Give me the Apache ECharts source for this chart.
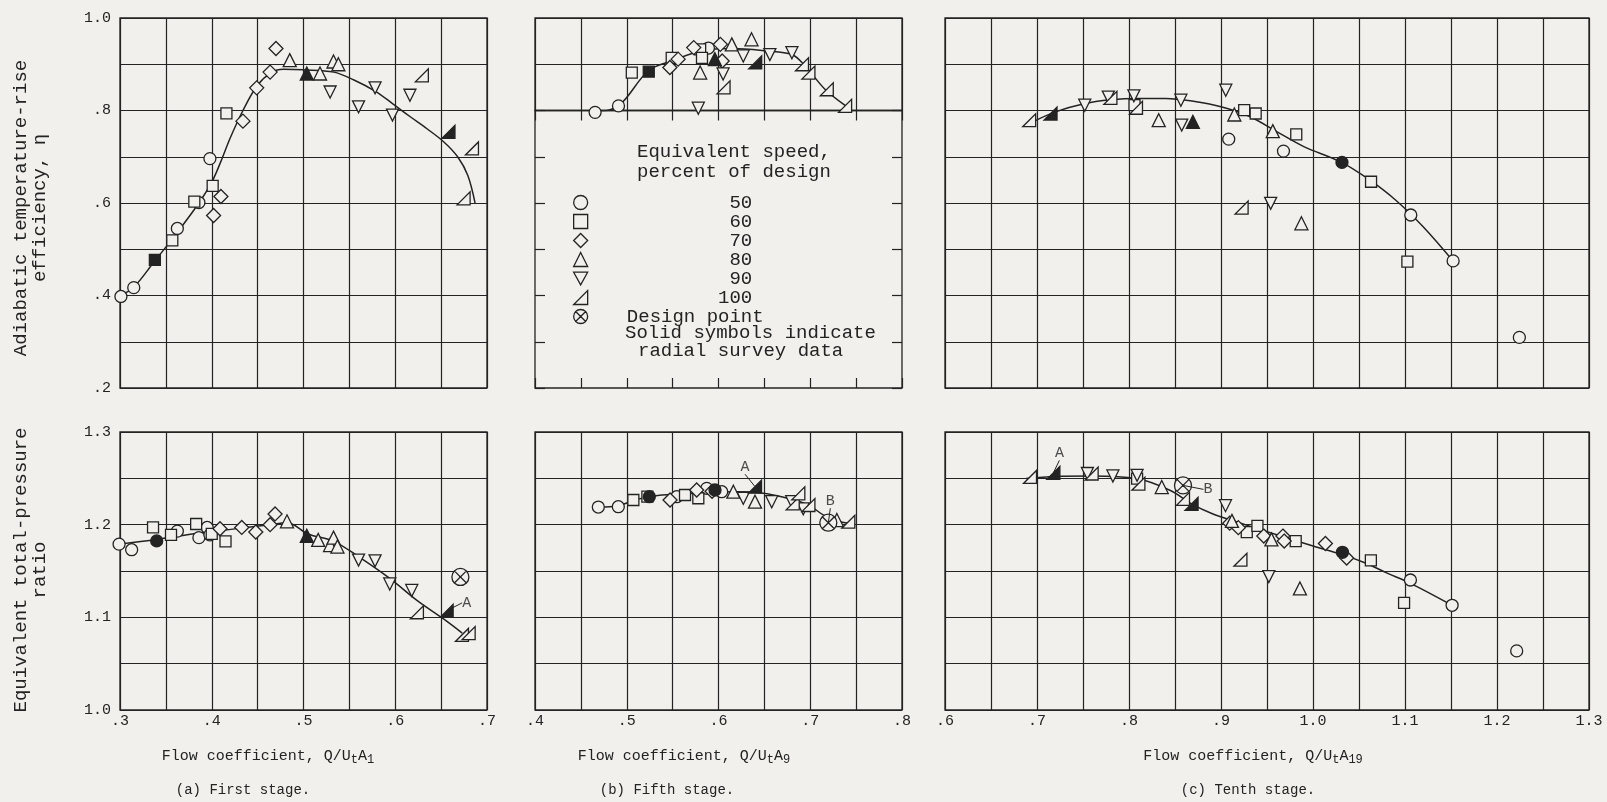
<!DOCTYPE html>
<html>
<head>
<meta charset="utf-8">
<script src="https://cdn.jsdelivr.net/npm/echarts@6/dist/echarts.min.js"></script>
<style>
  html, body { margin: 0; padding: 0; background: #f1f0ec; }
  #chart { width: 1607px; height: 802px; }
</style>
</head>
<body>
<div id="chart"></div>
<script>
// ---- Stage performance data: [flow coefficient, value] ----
const speeds = ['50', '60', '70', '80', '90', '100'];

// (a) First stage: efficiency
const s1Eff50 = [[0.301, 0.398], [0.315, 0.417], [0.3625, 0.545], [0.386, 0.601], [0.398, 0.696]];
const s1Eff60 = [[0.357, 0.519], [0.381, 0.603], [0.401, 0.637], [0.416, 0.794]];
const s1Eff70 = [[0.402, 0.573], [0.410, 0.614], [0.434, 0.777], [0.449, 0.849], [0.4636, 0.883], [0.470, 0.934]];
const s1Eff80 = [[0.485, 0.909], [0.518, 0.880], [0.5327, 0.906], [0.538, 0.900]];
const s1Eff90 = [[0.529, 0.840], [0.560, 0.808], [0.578, 0.849], [0.597, 0.790], [0.616, 0.833]];
const s1Eff100 = [[0.629, 0.876], [0.6836, 0.718], [0.6745, 0.610]];
const s1EffSolid = [[0.338, 0.477, 60], [0.5036, 0.880, 80], [0.658, 0.754, 100]];
const s1EffCurve = [[0.300, 0.400], [0.315, 0.418], [0.338, 0.475], [0.360, 0.530], [0.386, 0.600], [0.400, 0.645],
  [0.410, 0.690], [0.420, 0.740], [0.434, 0.800], [0.450, 0.855], [0.465, 0.882], [0.478, 0.889], [0.500, 0.888],
  [0.533, 0.883], [0.555, 0.866], [0.578, 0.842], [0.597, 0.815], [0.616, 0.787], [0.635, 0.760], [0.653, 0.732],
  [0.668, 0.700], [0.679, 0.660], [0.687, 0.600]];

// (a) First stage: pressure ratio
const s1Pr50 = [[0.299, 1.179], [0.3127, 1.173], [0.3625, 1.193], [0.386, 1.186], [0.395, 1.197], [0.398, 1.189]];
const s1Pr60 = [[0.336, 1.197], [0.3556, 1.189], [0.383, 1.2007], [0.400, 1.190], [0.415, 1.182]];
const s1Pr70 = [[0.409, 1.1956], [0.4327, 1.197], [0.448, 1.192], [0.4636, 1.200], [0.469, 1.2116]];
const s1Pr80 = [[0.482, 1.2036], [0.516, 1.1836], [0.529, 1.178], [0.5327, 1.186], [0.537, 1.1764]];
const s1Pr90 = [[0.560, 1.1618], [0.578, 1.161], [0.594, 1.136], [0.618, 1.129]];
const s1Pr100 = [[0.6236, 1.1055], [0.6727, 1.081], [0.680, 1.083]];
const s1PrSolid = [[0.340, 1.1825, 50], [0.5036, 1.188, 80], [0.656, 1.107, 100]];
const s1PrDesign = [[0.671, 1.1436]];
const s1PrNotes = [[0.656, 1.107, 'A']];
const s1PrCurve = [[0.299, 1.179], [0.340, 1.184], [0.387, 1.191], [0.430, 1.196], [0.463, 1.200], [0.482, 1.202],
  [0.505, 1.190], [0.533, 1.182], [0.560, 1.1655], [0.594, 1.142], [0.624, 1.118], [0.653, 1.098], [0.673, 1.083]];

// (b) Fifth stage: efficiency
const s5Eff50 = [[0.4655, 0.796], [0.491, 0.810], [0.589, 0.935]];
const s5Eff60 = [[0.5055, 0.882], [0.549, 0.914], [0.580, 0.932], [0.582, 0.914]];
const s5Eff70 = [[0.547, 0.893], [0.556, 0.911], [0.573, 0.936], [0.602, 0.943], [0.604, 0.907]];
const s5Eff80 = [[0.580, 0.882], [0.6145, 0.943], [0.636, 0.954]];
const s5Eff90 = [[0.578, 0.805], [0.605, 0.879], [0.627, 0.918], [0.656, 0.921], [0.680, 0.925]];
const s5Eff100 = [[0.6055, 0.850], [0.691, 0.900], [0.698, 0.882], [0.718, 0.846], [0.738, 0.810]];
const s5EffSolid = [[0.524, 0.884, 60], [0.596, 0.911, 80], [0.640, 0.904, 100]];
const s5EffCurve = [[0.4655, 0.796], [0.491, 0.810], [0.5236, 0.886], [0.549, 0.907], [0.582, 0.929], [0.6145, 0.934],
  [0.651, 0.929], [0.680, 0.921], [0.6945, 0.896], [0.716, 0.846], [0.738, 0.811]];

// (b) Fifth stage: pressure ratio
const s5Pr50 = [[0.469, 1.219], [0.4908, 1.2194], [0.5545, 1.2302], [0.5872, 1.2392], [0.6035, 1.2356]];
const s5Pr60 = [[0.5072, 1.2266], [0.5225, 1.2302], [0.5635, 1.232], [0.578, 1.2285]];
const s5Pr70 = [[0.5472, 1.2266], [0.5762, 1.2374], [0.593, 1.236]];
const s5Pr80 = [[0.6162, 1.2356], [0.6398, 1.2248], [0.729, 1.205]];
const s5Pr90 = [[0.627, 1.2285], [0.658, 1.2248], [0.6798, 1.2248], [0.6924, 1.217]];
const s5Pr100 = [[0.6809, 1.223], [0.687, 1.2338], [0.698, 1.2212], [0.7415, 1.2032]];
const s5PrSolid = [[0.5246, 1.2302, 50], [0.5962, 1.2374, 50], [0.6398, 1.241, 100]];
const s5PrDesign = [[0.7197, 1.2021]];
const s5PrNotes = [[0.6398, 1.241, 'A'], [0.7197, 1.2021, 'B']];
const s5PrCurve = [[0.469, 1.219], [0.4908, 1.2205], [0.510, 1.227], [0.530, 1.231], [0.560, 1.233], [0.590, 1.235],
  [0.620, 1.2355], [0.645, 1.2345], [0.665, 1.231], [0.685, 1.226], [0.700, 1.220], [0.715, 1.210], [0.730, 1.204],
  [0.745, 1.201]];

// (c) Tenth stage: efficiency
const s10Eff50 = [[0.9084, 0.7381], [0.9679, 0.7122], [1.1063, 0.5741], [1.1523, 0.4748], [1.2243, 0.3094]];
const s10Eff60 = [[0.806, 0.8115], [0.9252, 0.8007], [0.9377, 0.7935], [0.9818, 0.7482], [1.0631, 0.646], [1.1026, 0.4734]];
const s10Eff70 = [];
const s10Eff80 = [[0.8323, 0.779], [0.9145, 0.7914], [0.9563, 0.7554], [0.9874, 0.5561]];
const s10Eff90 = [[0.7519, 0.8115], [0.7775, 0.829], [0.8053, 0.8317], [0.8564, 0.8223], [0.9052, 0.8439],
  [0.8573, 0.7683], [0.954, 0.5993]];
const s10Eff100 = [[0.6915, 0.779], [0.7798, 0.8273], [0.8076, 0.806], [0.9224, 0.590]];
const s10EffSolid = [[0.7147, 0.7935, 100], [0.8694, 0.7755, 80], [1.0315, 0.6878, 50]];
const s10EffCurve = [[0.695, 0.775], [0.720, 0.797], [0.750, 0.814], [0.780, 0.823], [0.810, 0.826], [0.840, 0.826],
  [0.870, 0.820], [0.900, 0.808], [0.930, 0.788], [0.960, 0.755], [0.990, 0.722], [1.030, 0.689], [1.060, 0.652],
  [1.090, 0.606], [1.120, 0.548], [1.152, 0.475]];

// (c) Tenth stage: pressure ratio
const s10Pr50 = [[1.1059, 1.1403], [1.1512, 1.113], [1.2214, 1.0638]];
const s10Pr60 = [[0.8088, 1.2497], [0.928, 1.192], [0.9396, 1.1987], [0.9812, 1.1823], [1.0629, 1.1615], [1.099, 1.1156]];
const s10Pr70 = [[0.9095, 1.2016], [0.9188, 1.1968], [0.9465, 1.1877], [0.9673, 1.1877], [0.9687, 1.1823],
  [1.0135, 1.1797], [1.0366, 1.164]];
const s10Pr80 = [[0.8356, 1.2406], [0.9119, 1.2041], [0.9548, 1.1841], [0.9858, 1.1312]];
const s10Pr90 = [[0.7548, 1.2552], [0.7825, 1.2526], [0.8088, 1.2533], [0.9049, 1.2205], [0.952, 1.144]];
const s10Pr100 = [[0.6924, 1.2515], [0.7594, 1.2552], [0.8102, 1.2442], [0.8587, 1.2278], [0.9211, 1.1622]];
const s10PrSolid = [[0.7178, 1.2559, 100], [0.868, 1.2224, 100], [1.032, 1.1702, 50]];
const s10PrDesign = [[0.8587, 1.2424]];
const s10PrNotes = [[0.7178, 1.2559, 'A'], [0.8587, 1.2424, 'B']];
const s10PrCurve = [[0.688, 1.2497], [0.720, 1.252], [0.760, 1.2525], [0.808, 1.2497], [0.845, 1.2369], [0.868, 1.2224],
  [0.890, 1.212], [0.919, 1.2023], [0.965, 1.1877], [1.000, 1.177], [1.032, 1.1677], [1.057, 1.1586], [1.080, 1.148],
  [1.106, 1.1367], [1.1512, 1.113]];

// ---- Tick labels ----
const effTicks = ['1.0', '.8', '.6', '.4', '.2'];
const prTicks = ['1.3', '1.2', '1.1', '1.0'];
const s1Ticks = ['.3', '.4', '.5', '.6', '.7'];
const s5Ticks = ['.4', '.5', '.6', '.7', '.8'];
const s10Ticks = ['.6', '.7', '.8', '.9', '1.0', '1.1', '1.2', '1.3'];

// ---- Styling ----
const INK = '#232323';
const PAPER = '#f1f0ec';
const MONO = '"Liberation Mono", "DejaVu Sans Mono", monospace';

const DOWN = 'path://M0,0L10,0L5,9Z';
const RIGHT_TRI = 'path://M10,0L10,10L0,10Z';
const DESIGN = 'path://M10,5A5,5,0,1,1,0,5A5,5,0,1,1,10,5ZM1.6,1.6L8.4,8.4M8.4,1.6L1.6,8.4';
const SYM = { 50: 'circle', 60: 'rect', 70: 'diamond', 80: 'triangle', 90: DOWN, 100: RIGHT_TRI };
const SIZE = { 50: 12, 60: 11, 70: 14, 80: 13, 90: 12, 100: 13 };

function tickText(v) {
  const r = Math.round(v * 100) / 100;
  if (Math.round(r * 100) % 10 !== 0) return null;
  let s = r.toFixed(1);
  if (s.startsWith('0')) s = s.slice(1);
  return s;
}
const labelFrom = list => v => { const s = tickText(v); return s && list.includes(s) ? s : ''; };

// Grid rectangles: 0-2 top row, 3-5 bottom row, 6 lower part of fifth-stage efficiency box
const grids = [
  { left: 120, top: 18, width: 367, height: 370 },
  { left: 535, top: 18, width: 367, height: 92.5 },
  { left: 945, top: 18, width: 644, height: 370 },
  { left: 120, top: 432, width: 367, height: 278 },
  { left: 535, top: 432, width: 367, height: 278 },
  { left: 945, top: 432, width: 644, height: 278 },
  { left: 535, top: 110.5, width: 367, height: 277.5 }
].map(g => Object.assign({ show: true, borderColor: INK, borderWidth: 1.3, backgroundColor: 'transparent' }, g));

const xRanges = [[0.3, 0.7], [0.4, 0.8], [0.6, 1.3], [0.3, 0.7], [0.4, 0.8], [0.6, 1.3]];
const xLabelLists = [null, null, null, s1Ticks, s5Ticks, s10Ticks];
const yRanges = [[0.2, 1.0], [0.8, 1.0], [0.2, 1.0], [1.0, 1.3], [1.0, 1.3], [1.0, 1.3]];
const yLabelLists = [effTicks, null, null, prTicks, null, null];

const lineSplit = { show: true, lineStyle: { color: INK, width: 1.2 } };
const noLine = { show: false, onZero: false };
const labelFont = { fontFamily: MONO, fontSize: 15, color: INK };

const xAxis = xRanges.map((r, i) => ({
  type: 'value', gridIndex: i, min: r[0], max: r[1], interval: 0.05,
  axisLine: noLine, axisTick: { show: false }, splitLine: lineSplit,
  axisLabel: xLabelLists[i]
    ? Object.assign({ show: true, margin: 4, showMinLabel: true, showMaxLabel: true, formatter: labelFrom(xLabelLists[i]) }, labelFont)
    : { show: false }
}));
const yAxis = yRanges.map((r, i) => ({
  type: 'value', gridIndex: i, min: r[0], max: r[1], interval: i < 3 ? 0.1 : 0.05,
  axisLine: noLine, axisTick: { show: false }, splitLine: lineSplit,
  axisLabel: yLabelLists[i]
    ? Object.assign({ show: true, margin: 9, showMinLabel: true, showMaxLabel: true, formatter: labelFrom(yLabelLists[i]) }, labelFont)
    : { show: false }
}));

// Lower part of the fifth-stage efficiency box: inward ticks only (legend area)
const innerTick = { show: true, inside: true, length: 10, lineStyle: { color: INK, width: 1.2 } };
['bottom', 'top'].forEach(pos => xAxis.push({
  type: 'value', gridIndex: 6, position: pos, min: 0.4, max: 0.8, interval: 0.05,
  axisLine: noLine, axisTick: innerTick, splitLine: { show: false }, axisLabel: { show: false }
}));
['left', 'right'].forEach(pos => yAxis.push({
  type: 'value', gridIndex: 6, position: pos, min: 0.2, max: 0.8, interval: 0.1,
  axisLine: noLine, axisTick: innerTick, splitLine: { show: false }, axisLabel: { show: false }
}));

// ---- Panels ----
const panels = [
  { axis: 0, sets: [s1Eff50, s1Eff60, s1Eff70, s1Eff80, s1Eff90, s1Eff100], solid: s1EffSolid, curve: s1EffCurve },
  { axis: 1, sets: [s5Eff50, s5Eff60, s5Eff70, s5Eff80, s5Eff90, s5Eff100], solid: s5EffSolid, curve: s5EffCurve },
  { axis: 2, sets: [s10Eff50, s10Eff60, s10Eff70, s10Eff80, s10Eff90, s10Eff100], solid: s10EffSolid, curve: s10EffCurve },
  { axis: 3, sets: [s1Pr50, s1Pr60, s1Pr70, s1Pr80, s1Pr90, s1Pr100], solid: s1PrSolid, curve: s1PrCurve,
    design: s1PrDesign, notes: s1PrNotes, noteOffsets: [[20, -8]] },
  { axis: 4, sets: [s5Pr50, s5Pr60, s5Pr70, s5Pr80, s5Pr90, s5Pr100], solid: s5PrSolid, curve: s5PrCurve,
    design: s5PrDesign, notes: s5PrNotes, noteOffsets: [[-10, -20], [2, -22]] },
  { axis: 5, sets: [s10Pr50, s10Pr60, s10Pr70, s10Pr80, s10Pr90, s10Pr100], solid: s10PrSolid, curve: s10PrCurve,
    design: s10PrDesign, notes: s10PrNotes, noteOffsets: [[6, -20], [25, 4]] }
];

const markerStyle = filled => ({ color: filled ? INK : PAPER, borderColor: INK, borderWidth: 1.3, opacity: 1 });
const common = ax => ({ xAxisIndex: ax, yAxisIndex: ax, silent: true, animation: false, emphasis: { disabled: true } });

const series = [];
panels.forEach(p => {
  series.push(Object.assign(common(p.axis), {
    type: 'line', name: 'curve', data: p.curve, smooth: 0.35, symbol: 'none', z: 2,
    lineStyle: { color: INK, width: 1.5 }
  }));
  speeds.forEach((sp, i) => series.push(Object.assign(common(p.axis), {
    type: 'scatter', name: sp, data: p.sets[i], symbol: SYM[sp], symbolSize: SIZE[sp], clip: false, z: 3,
    itemStyle: markerStyle(false)
  })));
  series.push(Object.assign(common(p.axis), {
    type: 'scatter', name: 'solid', data: p.solid, clip: false, z: 4,
    symbol: (v, prm) => SYM[prm.data[2]], symbolSize: (v, prm) => SIZE[prm.data[2]],
    itemStyle: markerStyle(true)
  }));
  if (p.design) series.push(Object.assign(common(p.axis), {
    type: 'scatter', name: 'Design point', data: p.design, symbol: DESIGN, symbolSize: 17, clip: false, z: 4,
    itemStyle: markerStyle(false)
  }));
  if (p.notes) series.push(Object.assign(common(p.axis), {
    type: 'scatter', name: 'notes', data: p.notes, symbolSize: 1, clip: false, z: 5,
    itemStyle: { color: 'transparent' },
    label: { show: true, position: 'inside', formatter: prm => prm.data[2], fontFamily: MONO, fontSize: 15, color: INK },
    labelLayout: prm => ({ dx: p.noteOffsets[prm.dataIndex][0], dy: p.noteOffsets[prm.dataIndex][1] }),
    labelLine: { show: true, length2: 0, lineStyle: { color: INK, width: 1 } }
  }));
});

// ---- Legend (inside fifth-stage efficiency box) ----
const legendIcons = { '50': 'circle', '60': 'rect', '70': 'diamond', '80': 'triangle', '90': DOWN, '100': RIGHT_TRI };
const legendData = speeds.map(sp => ({ name: sp, icon: legendIcons[sp], itemStyle: markerStyle(false) }))
  .concat([{ name: 'Design point', icon: DESIGN, itemStyle: markerStyle(false) }]);

// ---- Texts ----
const txt = (x, y, text, size, extra) => ({
  type: 'text', x, y, silent: true,
  style: Object.assign({ text, fontFamily: MONO, fontSize: size, fill: INK, align: 'center', verticalAlign: 'middle' }, extra || {})
});
const subRich = { s: { fontFamily: MONO, fontSize: 12, padding: [8, 0, 0, 0], fill: INK } };

const graphic = [
  txt(30, 208, 'Adiabatic temperature-rise\nefficiency, η', 19, { lineHeight: 19 }),
  txt(30, 570, 'Equivalent total-pressure\nratio', 19, { lineHeight: 19 }),
  txt(268, 756, 'Flow coefficient, Q/U{s|t}A{s|1}', 15, { rich: subRich }),
  txt(684, 756, 'Flow coefficient, Q/U{s|t}A{s|9}', 15, { rich: subRich }),
  txt(1253, 756, 'Flow coefficient, Q/U{s|t}A{s|19}', 15, { rich: subRich }),
  txt(243, 790, '(a) First stage.', 14),
  txt(667, 790, '(b) Fifth stage.', 14),
  txt(1248, 790, '(c) Tenth stage.', 14),
  txt(637, 162, 'Equivalent speed,\npercent of design', 19, { align: 'left', lineHeight: 20 }),
  txt(625, 333, 'Solid symbols indicate', 19, { align: 'left' }),
  txt(638, 351, 'radial survey data', 19, { align: 'left' })
];
graphic.forEach((g, i) => { if (i < 2) g.rotation = Math.PI / 2; });

const chart = echarts.init(document.getElementById('chart'), null, { renderer: 'canvas' });
chart.setOption({
  backgroundColor: PAPER,
  animation: false,
  grid: grids,
  xAxis, yAxis,
  legend: {
    show: true, orient: 'vertical', left: 573, top: 193, padding: 0,
    itemWidth: 14, itemHeight: 14, itemGap: 0, selectedMode: false,
    textStyle: { fontFamily: MONO, fontSize: 19, color: INK },
    formatter: n => n === 'Design point' ? '   Design point' : n.padStart(14, ' '),
    data: legendData
  },
  graphic,
  series
});
</script>
</body>
</html>
